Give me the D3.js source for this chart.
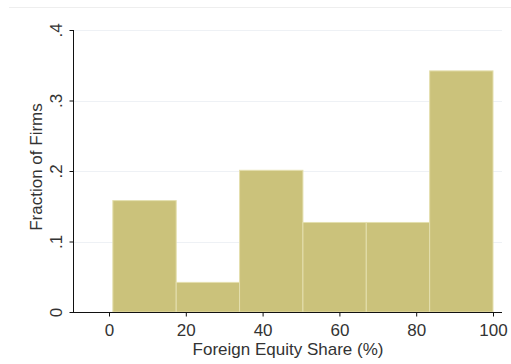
<!DOCTYPE html>
<html>
<head>
<meta charset="utf-8">
<style>
  body { margin: 0; background: #fff; }
  text { font-family: "Liberation Sans", Arial, sans-serif; fill: #333; }
</style>
</head>
<body>
<div class="start"></div>
<script src="https://cdn.jsdelivr.net/npm/d3@7/dist/d3.min.js"></script>
<script>
// histogram bins (left edge, width) and fraction per bin
var binStarts = [1, 17.5, 34, 50.5, 67, 83.5];
var binWidth = 16.5;
var fractions = [0.158, 0.042, 0.201, 0.127, 0.127, 0.342];
var xTicks = [0, 20, 40, 60, 80, 100];
var yTicks = [0, 0.1, 0.2, 0.3, 0.4];
var yTickLabels = ["0", ".1", ".2", ".3", ".4"];

var W = 511, H = 364;

var svg = d3.select('.start')
  .append('svg')
  .attr('width', W)
  .attr('height', H);

var x = d3.scaleLinear().domain([0, 100]).range([109, 493]);
var y = d3.scaleLinear().domain([0, 0.4]).range([312, 30]);

// outer border line at top
svg.append('line')
  .attr('x1', 9).attr('x2', W)
  .attr('y1', 7.5).attr('y2', 7.5)
  .attr('stroke', '#eeeeee');

// grid lines
svg.selectAll('.grid')
  .data(yTicks.slice(1))
  .enter().append('line')
  .attr('x1', 74).attr('x2', 502)
  .attr('y1', function(d) { return Math.round(y(d)) + 0.5; })
  .attr('y2', function(d) { return Math.round(y(d)) + 0.5; })
  .attr('stroke', '#eef1f5');

// bars
svg.selectAll('.bar')
  .data(fractions)
  .enter().append('rect')
  .attr('x', function(d, i) { return x(binStarts[i]); })
  .attr('width', function(d, i) { return x(binStarts[i] + binWidth) - x(binStarts[i]); })
  .attr('y', function(d) { return y(d); })
  .attr('height', function(d) { return y(0) - y(d); })
  .attr('fill', '#cbc27b')
  .attr('stroke', '#e4dfae')
  .attr('stroke-width', 1);

// y axis
var yAxis = d3.axisLeft(y)
  .tickValues(yTicks)
  .tickSize(4)
  .tickFormat(function(d, i) { return yTickLabels[i]; });

var gy = svg.append('g')
  .attr('transform', 'translate(73.5,0)')
  .call(yAxis);
gy.select('.domain').attr('d', 'M0,' + y(0.4) + 'V' + (y(0) + 0.5)).attr('stroke', '#111');
gy.selectAll('.tick line').attr('stroke', '#111');
gy.selectAll('.tick text')
  .attr('x', null).attr('dy', null)
  .attr('transform', 'translate(-12,0) rotate(-90)')
  .attr('text-anchor', 'middle')
  .style('font-size', '17px')
  .attr('fill', '#333');

// x axis
var xAxis = d3.axisBottom(x)
  .tickValues(xTicks)
  .tickSize(4);

var gx = svg.append('g')
  .attr('transform', 'translate(0,312.5)')
  .call(xAxis);
gx.select('.domain').attr('d', 'M73,0H502').attr('stroke', '#111');
gx.selectAll('.tick line').attr('stroke', '#111');
gx.selectAll('.tick text')
  .attr('y', 11)
  .style('font-size', '17px')
  .attr('fill', '#333');

// axis titles
svg.append('text')
  .attr('transform', 'translate(42,167) rotate(-90)')
  .attr('text-anchor', 'middle')
  .style('font-size', '17px')
  .text('Fraction of Firms');

svg.append('text')
  .attr('x', 288).attr('y', 355)
  .attr('text-anchor', 'middle')
  .style('font-size', '17px')
  .text('Foreign Equity Share (%)');
</script>
</body>
</html>
